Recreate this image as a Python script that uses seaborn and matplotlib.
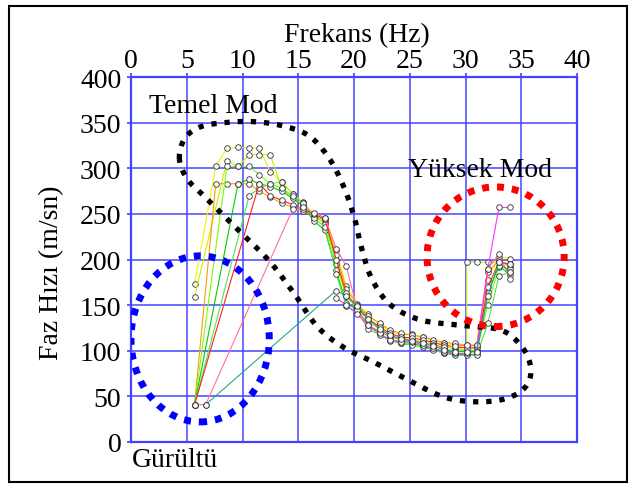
import numpy as np
import pandas as pd
import matplotlib
matplotlib.use("Agg")
import matplotlib.pyplot as plt
import seaborn as sns
from matplotlib.patches import Ellipse, Rectangle

# ---------------- data ----------------
yellow_f = [5.7, 7.6, 8.6, 9.6, 10.6, 11.5, 12.5, 13.5, 14.5, 15.4, 16.4, 17.4, 18.4, 19.3, 20.3,
            21.3, 22.3, 23.2, 24.2, 25.2, 26.2, 27.1, 28.1, 29.1, 30.1, 31.0, 32.0, 33.0, 34.0]
yellow_v = [173, 302, 322, 323, 322, 322, 296, 285, 272, 263, 249, 246, 210, 171, 151,
            140, 129, 121, 118, 118, 115, 111, 108, 106, 105, 105, 178, 203, 201]

ygreen_f = [5.7, 8.6, 9.6, 10.6, 11.5, 12.5, 13.5, 14.5, 15.4, 16.4, 17.4, 18.4, 19.3, 20.3, 21.3,
            22.3, 23.2, 24.2, 25.2, 26.2, 27.1, 28.1, 29.1, 30.1, 30.1, 31.0, 32.0, 33.0, 34.0]
ygreen_v = [159, 308, 302, 315, 315, 315, 278, 268, 259, 246, 241, 200, 160, 146, 133,
            124, 116, 114, 112, 110, 107, 104, 102, 101, 197, 197, 197, 197, 195]

orange_f = [5.7, 7.6, 8.6, 9.6, 10.6, 11.5, 12.5, 13.5, 14.5, 15.4, 16.4, 17.4, 18.4, 19.3, 20.3,
            21.3, 22.3, 23.2, 24.2, 25.2, 26.2, 27.1, 28.1, 29.1, 30.1, 31.0, 32.0, 33.0, 34.0]
orange_v = [41, 283, 283, 283, 283, 275, 268, 262, 257, 253, 248, 243, 205, 168, 150,
            138, 130, 123, 119, 117, 115, 112, 109, 108, 106, 106, 186, 199, 192]

lime_f = [5.7, 8.6, 9.6, 10.6, 11.5, 12.5, 13.5, 14.5, 15.4, 16.4, 17.4, 18.4, 19.3, 20.3,
          21.3, 22.3, 23.2, 24.2, 25.2, 26.2, 27.1, 28.1, 29.1, 30.1, 31.0, 32.0, 33.0, 34.0]
lime_v = [41, 302, 302, 302, 293, 283, 285, 272, 262, 249, 239, 195, 160, 148,
          133, 123, 115, 113, 110, 110, 106, 102, 100, 100, 100, 150, 192, 190]

green_f = [5.7, 9.6, 10.6, 11.5, 12.5, 13.5, 14.5, 15.4, 16.4, 17.4, 18.4, 19.3, 20.3, 21.3,
           22.3, 23.2, 24.2, 25.2, 26.2, 27.1, 28.1, 29.1, 30.1, 31.0, 32.0, 33.0, 34.0]
green_v = [41, 283, 288, 283, 280, 275, 267, 259, 242, 232, 188, 152, 145, 128,
           118, 112, 109, 108, 105, 102, 98, 96, 96, 96, 164, 193, 183]

lgreen_f = [5.7, 10.6, 11.5, 12.5, 13.5, 14.5, 15.4, 16.4, 17.4, 18.4, 19.3, 20.3, 21.3,
            22.3, 23.2, 24.2, 25.2, 26.2, 27.1, 28.1, 29.1, 30.1, 31.0, 32.0, 33.0, 34.0]
lgreen_v = [41, 270, 278, 283, 278, 270, 262, 245, 236, 184, 149, 142, 124,
            117, 111, 108, 106, 104, 101, 97, 95, 95, 95, 130, 182, 186]

red_f = [5.7, 11.5, 12.5, 13.5, 14.5, 15.4, 16.4, 17.4, 18.4, 19.3, 20.3, 21.3, 22.3,
         23.2, 24.2, 25.2, 26.2, 27.1, 28.1, 29.1, 30.1, 31.0, 32.0, 33.0, 34.0]
red_v = [41, 283, 270, 265, 260, 255, 250, 244, 200, 163, 147, 135, 126,
         119, 115, 114, 112, 109, 106, 104, 103, 103, 170, 197, 195]

pink_f = [5.7, 6.7, 14.5, 15.4, 16.4, 17.4, 18.4, 19.3, 20.3, 21.3, 22.3, 23.2, 24.2,
          25.2, 26.2, 27.1, 28.1, 29.1, 30.1, 31.0, 32.0, 33.0, 34.0]
pink_v = [41, 41, 255, 258, 251, 246, 212, 193, 145, 128, 121, 116, 112,
          111, 109, 106, 104, 105, 106, 106, 190, 206, 179]

magenta_f = [18.4, 19.3, 20.3, 21.3, 22.3, 23.2, 24.2, 25.2, 26.2, 27.1, 28.1, 29.1,
             30.1, 31.0, 32.0, 33.0, 34.0]
magenta_v = [158, 150, 140, 128, 119, 112, 110, 110, 106, 103, 99, 97,
             97, 100, 190, 257, 257]

teal_f = [6.7, 18.4, 19.3, 20.3, 21.3, 22.3, 23.2, 24.2, 25.2, 26.2, 27.1, 28.1, 29.1,
          30.1, 31.0, 32.0, 33.0, 34.0]
teal_v = [41, 166, 160, 149, 135, 124, 117, 113, 111, 108, 105, 101, 99,
          99, 99, 160, 197, 186]

series_names = ["yellow", "ygreen", "orange", "lime", "green", "lgreen",
                "red", "pink", "magenta", "teal"]
series_colors = ["#f2f200", "#c4ee00", "#ff9a00", "#7cff00", "#00cc00", "#55e055",
                 "#ff2020", "#ff6f9a", "#ff30ff", "#20a888"]

x_ticks = [0, 5, 10, 15, 20, 25, 30, 35, 40]
y_ticks = [0, 50, 100, 150, 200, 250, 300, 350, 400]

# annotation outlines (data coordinates)
blob_x = [4.34, 4.79, 6.14, 8.38, 11.08, 13.77, 16.02, 17.82, 19.17, 20.07, 20.69, 21.59,
          23.21, 25.90, 29.49, 33.09, 34.88, 35.78, 35.60, 33.98, 31.29, 28.15, 25.00,
          21.86, 19.17, 16.74, 14.67, 12.43, 9.73, 6.59, 5.06]
blob_y = [310, 332, 345, 350, 351, 346, 335, 310, 277, 244, 212, 179,
          151, 134, 128, 123, 107, 86, 64, 49, 44, 49, 67,
          87, 103, 126, 162, 198, 231, 269, 288]

# ---------------- build table ----------------
all_f = [yellow_f, ygreen_f, orange_f, lime_f, green_f, lgreen_f, red_f, pink_f, magenta_f, teal_f]
all_v = [yellow_v, ygreen_v, orange_v, lime_v, green_v, lgreen_v, red_v, pink_v, magenta_v, teal_v]
frames = []
for name, f, v in zip(series_names, all_f, all_v):
    frames.append(pd.DataFrame({"series": name, "freq": f, "vel": v}))
df = pd.concat(frames, ignore_index=True)
palette = dict(zip(series_names, series_colors))

# ---------------- figure ----------------
sns.set_theme(style="white")
plt.rcParams["font.family"] = ["Liberation Serif", "DejaVu Serif"]
plt.rcParams["text.color"] = "black"
plt.rcParams["axes.labelcolor"] = "black"

fig = plt.figure(figsize=(6.33, 4.85), dpi=100)
ax = fig.add_axes([131 / 633, 1 - 443 / 485, 446 / 633, 365 / 485])

grid_c = "#4343ff"
ax.set_xlim(0, 40)
ax.set_ylim(0, 400)
ax.set_xticks(x_ticks)
ax.set_yticks(y_ticks)
ax.grid(True, color=grid_c, lw=1.2, alpha=0.9, zorder=0)
ax.set_axisbelow(True)

sns.lineplot(data=df, x="freq", y="vel", hue="series", palette=palette,
             sort=False, estimator=None, legend=False, ax=ax,
             lw=0.8, marker="o", markersize=4.0, markerfacecolor="white",
             markeredgecolor="#303030", markeredgewidth=0.6, zorder=3)

# annotation shapes
def closed_catmull(xs, ys, n=16):
    P = np.c_[xs, ys].astype(float)
    N = len(P)
    t = np.linspace(0, 1, n, endpoint=False)[:, None]
    out = []
    for i in range(N):
        p0, p1, p2, p3 = P[(i - 1) % N], P[i], P[(i + 1) % N], P[(i + 2) % N]
        out.append(0.5 * (2 * p1 + (-p0 + p2) * t + (2 * p0 - 5 * p1 + 4 * p2 - p3) * t ** 2
                          + (-p0 + 3 * p1 - 3 * p2 + p3) * t ** 3))
    out = np.vstack(out)
    return np.vstack([out, out[:1]])

bl = closed_catmull(blob_x, blob_y)
ax.plot(bl[:, 0], bl[:, 1], color="black", lw=3.8, linestyle=(0, (1, 1.5)), zorder=4)
ax.add_patch(Ellipse((6.2, 113), 12.4, 182, fill=False, edgecolor="#0000ff", lw=5,
                     linestyle=(0, (1, 1.15)), zorder=4))
ax.add_patch(Ellipse((32.7, 203), 12.3, 153, fill=False, edgecolor="#ff0000", lw=5,
                     linestyle=(0, (1, 1.15)), zorder=4))

# axes styling
ax.xaxis.tick_top()
ax.xaxis.set_label_position("top")
ax.tick_params(axis="x", top=True, bottom=False, length=3, width=1.2, color=grid_c,
               pad=0, labelsize=20, labelcolor="black", direction="out")
ax.tick_params(axis="y", left=True, length=3, width=1.2, color=grid_c,
               pad=4, labelsize=20, labelcolor="black", direction="out")
for s in ax.spines.values():
    s.set_visible(True)
    s.set_color(grid_c)
    s.set_linewidth(1.6)

ax.set_xlabel("Frekans (Hz)", fontsize=20, color="black")
ax.xaxis.set_label_coords(0.506, 1.099)
ax.set_ylabel("Faz Hızı (m/sn)", fontsize=20, color="black")
ax.yaxis.set_label_coords(-0.15, 0.466)

ax.text(1.6, 362, "Temel Mod", fontsize=20, ha="left", va="baseline", color="black", zorder=5)
ax.text(24.8, 291.5, "Yüksek Mod", fontsize=20, ha="left", va="baseline", color="black", zorder=5)
ax.text(0.05, -26.5, "Gürültü", fontsize=20, ha="left", va="baseline", color="black",
        clip_on=False, zorder=5)

fig.add_artist(Rectangle((9 / 633, 2 / 485), 618 / 633, 476 / 485, transform=fig.transFigure,
                         fill=False, edgecolor="black", lw=1.5))

fig.savefig("out.png", dpi=100)
